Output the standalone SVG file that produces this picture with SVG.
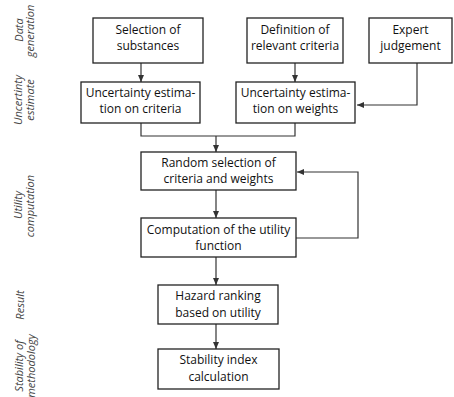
<svg xmlns="http://www.w3.org/2000/svg" width="454" height="397" viewBox="0 0 454 397">
<style>
.box{fill:#fff;stroke:#222;stroke-width:1.3}
.t{font-family:"Open Sans","Noto Sans",sans-serif;font-size:12px;fill:#111;text-anchor:middle}
.side{font-family:"Open Sans","Noto Sans",sans-serif;font-size:11px;font-style:italic;fill:#444;text-anchor:middle}
.c{fill:none;stroke:#333;stroke-width:1.2}
</style>
<defs>
<marker id="ah" markerUnits="userSpaceOnUse" markerWidth="8" markerHeight="8" refX="7" refY="4" orient="auto">
<path d="M0,1 L7,4 L0,7 Z" fill="#333"/>
</marker>
</defs>
<rect width="454" height="397" fill="#fff"/>
<g id="side-labels">
<text class="side" transform="translate(23,30) rotate(-90)">Data</text>
<text class="side" transform="translate(34,31) rotate(-90)">generation</text>
<text class="side" transform="translate(22,100) rotate(-90)">Uncertinty</text>
<text class="side" transform="translate(34,100) rotate(-90)">estimate</text>
<text class="side" transform="translate(22,205) rotate(-90)">Utility</text>
<text class="side" transform="translate(34,206) rotate(-90)">computation</text>
<text class="side" transform="translate(24,305) rotate(-90)">Result</text>
<text class="side" transform="translate(23,366) rotate(-90)">Stability of</text>
<text class="side" transform="translate(35,366) rotate(-90)">methodology</text>
</g>
<g id="connectors">
<path class="c" d="M141,63 V82" marker-end="url(#ah)"/>
<path class="c" d="M295,63 V82" marker-end="url(#ah)"/>
<path class="c" d="M417,63 V105 H357" marker-end="url(#ah)"/>
<path class="c" d="M141,123 V136 H295 V123"/>
<path class="c" d="M216,136 V152" marker-end="url(#ah)"/>
<path class="c" d="M216,190 V218" marker-end="url(#ah)"/>
<path class="c" d="M296,238 H358 V172 H297" marker-end="url(#ah)"/>
<path class="c" d="M216,257 V285" marker-end="url(#ah)"/>
<path class="c" d="M216,324 V349" marker-end="url(#ah)"/>
</g>
<g id="n1"><rect class="box" x="93" y="18" width="110" height="45"/>
<text class="t" x="148" y="34">Selection of</text><text class="t" x="148" y="50">substances</text></g>
<g id="n2"><rect class="box" x="247" y="18" width="96" height="45"/>
<text class="t" x="295" y="34">Definition of</text><text class="t" x="295" y="50">relevant criteria</text></g>
<g id="n3"><rect class="box" x="369" y="18" width="83" height="45"/>
<text class="t" x="410.5" y="34">Expert</text><text class="t" x="410.5" y="50">judgement</text></g>
<g id="n4"><rect class="box" x="81" y="82" width="119" height="41"/>
<text class="t" x="140.5" y="97">Uncertainty estima-</text><text class="t" x="140.5" y="113">tion on criteria</text></g>
<g id="n5"><rect class="box" x="236" y="82" width="119" height="41"/>
<text class="t" x="295.5" y="97">Uncertainty estima-</text><text class="t" x="295.5" y="113">tion on weights</text></g>
<g id="n6"><rect class="box" x="141" y="152" width="155" height="38"/>
<text class="t" x="218.5" y="167">Random selection of</text><text class="t" x="218.5" y="183">criteria and weights</text></g>
<g id="n7"><rect class="box" x="141" y="218" width="155" height="39"/>
<text class="t" x="218.5" y="234">Computation of the utility</text><text class="t" x="218.5" y="250">function</text></g>
<g id="n8"><rect class="box" x="158" y="285" width="120" height="39"/>
<text class="t" x="218" y="300">Hazard ranking</text><text class="t" x="218" y="317">based on utility</text></g>
<g id="n9"><rect class="box" x="158" y="349" width="121" height="40"/>
<text class="t" x="218.5" y="364">Stability index</text><text class="t" x="218.5" y="381">calculation</text></g>
</svg>
